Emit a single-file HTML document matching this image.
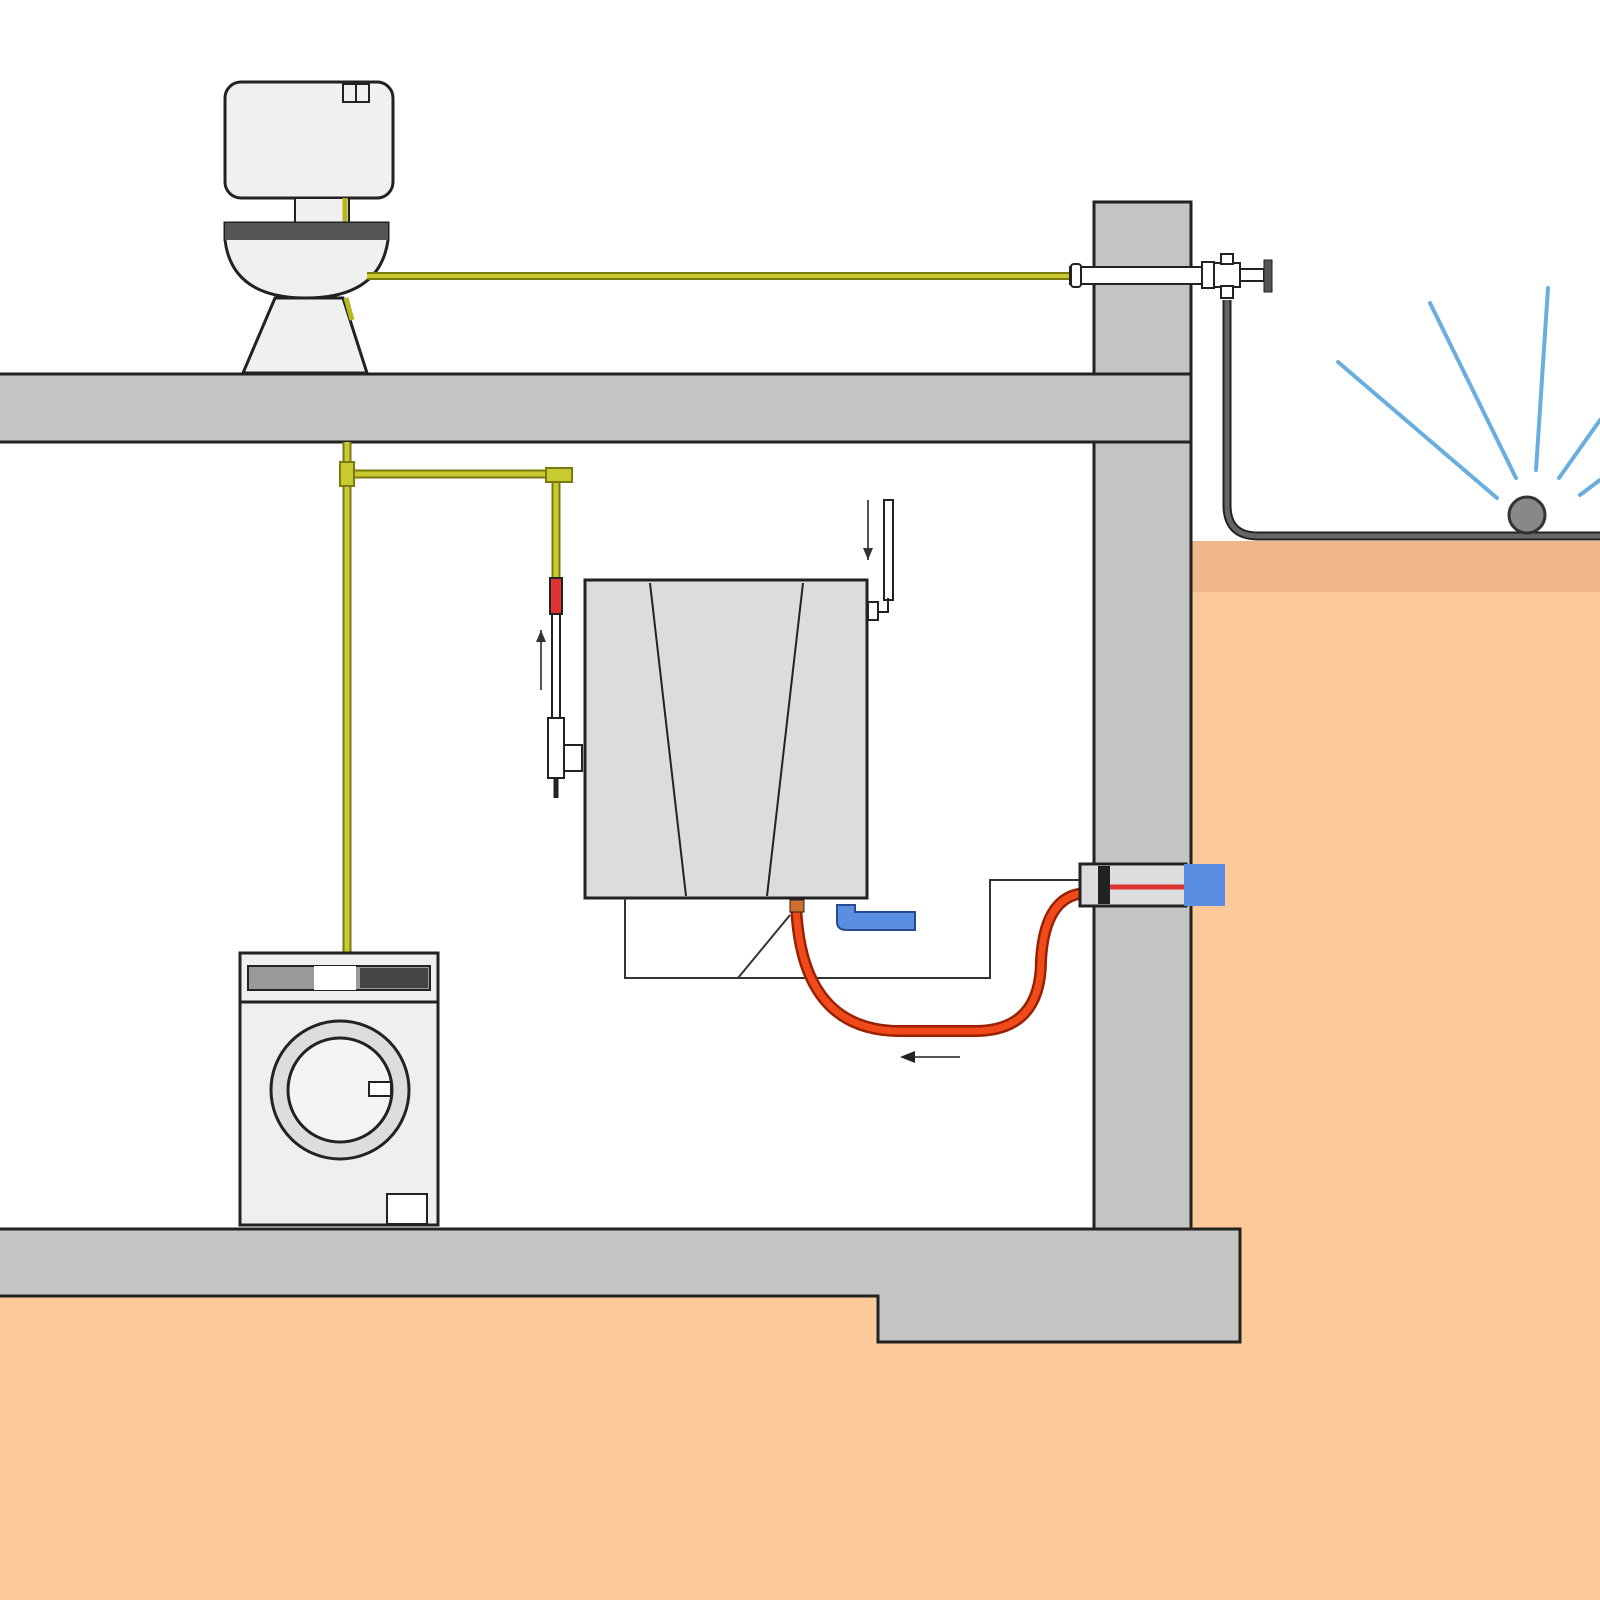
<!DOCTYPE html>
<html><head><style>html,body{margin:0;padding:0;background:#fff}svg{display:block}</style></head>
<body>
<svg width="1600" height="1600" viewBox="0 0 1600 1600" xmlns="http://www.w3.org/2000/svg">
<rect width="1600" height="1600" fill="#fff"/>
<rect x="1191" y="541" width="409" height="1059" fill="#fdc998"/>
<rect x="1191" y="541" width="409" height="51" fill="#efb787"/>
<rect x="0" y="1294" width="1600" height="306" fill="#fdc998"/>
<rect x="1094" y="202" width="97" height="1030" fill="#c4c4c4" stroke="#222" stroke-width="3"/>
<rect x="-5" y="374" width="1196" height="68" fill="#c4c4c4" stroke="#222" stroke-width="3"/>
<path d="M-5 1229 L1240 1229 L1240 1342 L878 1342 L878 1296 L-5 1296 Z" fill="#c4c4c4" stroke="#222" stroke-width="3"/>
<rect x="225" y="82" width="168" height="116" rx="16" fill="#f0f0f0" stroke="#222" stroke-width="3"/>
<rect x="343" y="84" width="26" height="18" fill="#f0f0f0" stroke="#222" stroke-width="2"/>
<line x1="356" y1="84" x2="356" y2="102" stroke="#222" stroke-width="2"/>
<rect x="295" y="198" width="54" height="25" fill="#f0f0f0" stroke="#222" stroke-width="2"/>
<line x1="345" y1="198" x2="345" y2="240" stroke="#b7b820" stroke-width="5"/>
<path d="M275 298 L343 298 L367 373 L243 373 Z" fill="#f0f0f0" stroke="#222" stroke-width="3"/>
<path d="M225 223 L388 223 L388 240 Q380 298 306 298 Q232 298 225 240 Z" fill="#f0f0f0" stroke="#222" stroke-width="3"/>
<rect x="225" y="223" width="163" height="17" fill="#555"/>
<line x1="346" y1="298" x2="352" y2="320" stroke="#b7b820" stroke-width="5"/>
<line x1="367" y1="276" x2="1073" y2="276" stroke="#7a7a10" stroke-width="8"/>
<line x1="367" y1="276" x2="1073" y2="276" stroke="#c9c930" stroke-width="4"/>
<rect x="1070" y="267" width="134" height="17" fill="#fff" stroke="#222" stroke-width="2"/>
<rect x="1071" y="264" width="10" height="23" rx="3" fill="#fff" stroke="#222" stroke-width="2"/>
<rect x="1202" y="262" width="12" height="26" fill="#fff" stroke="#222" stroke-width="2"/>
<rect x="1214" y="263" width="26" height="24" fill="#fff" stroke="#222" stroke-width="2"/>
<rect x="1221" y="254" width="12" height="10" fill="#fff" stroke="#222" stroke-width="2"/>
<rect x="1240" y="269" width="24" height="12" fill="#fff" stroke="#222" stroke-width="2"/>
<rect x="1264" y="260" width="8" height="32" fill="#555" stroke="#222" stroke-width="1"/>
<rect x="1221" y="286" width="12" height="12" fill="#fff" stroke="#222" stroke-width="2"/>
<path d="M1227 300 L1227 505 Q1227 536 1258 536 L1600 536" fill="none" stroke="#222" stroke-width="9"/>
<path d="M1227 300 L1227 505 Q1227 536 1258 536 L1600 536" fill="none" stroke="#666" stroke-width="5"/>
<circle cx="1527" cy="515" r="18" fill="#888" stroke="#333" stroke-width="3"/>
<g stroke="#6aaee0" stroke-width="4" stroke-linecap="round">
<line x1="1338" y1="362" x2="1497" y2="498"/>
<line x1="1430" y1="303" x2="1516" y2="478"/>
<line x1="1548" y1="288" x2="1536" y2="470"/>
<line x1="1600" y1="420" x2="1559" y2="478"/>
<line x1="1600" y1="480" x2="1580" y2="495"/>
</g>
<line x1="347" y1="442" x2="347" y2="956" stroke="#7a7a10" stroke-width="9"/>
<line x1="347" y1="442" x2="347" y2="956" stroke="#c9c930" stroke-width="5"/>
<path d="M347 474 L556 474 L556 582" fill="none" stroke="#7a7a10" stroke-width="9"/>
<path d="M347 474 L556 474 L556 582" fill="none" stroke="#c9c930" stroke-width="5"/>
<rect x="340" y="462" width="14" height="24" fill="#c9c930" stroke="#7a7a10" stroke-width="2"/>
<rect x="546" y="468" width="26" height="14" fill="#c9c930" stroke="#7a7a10" stroke-width="2"/>
<rect x="550" y="578" width="12" height="36" fill="#d33" stroke="#222" stroke-width="2"/>
<rect x="552" y="614" width="8" height="104" fill="#fff" stroke="#222" stroke-width="2"/>
<rect x="548" y="718" width="16" height="60" fill="#fff" stroke="#222" stroke-width="2"/>
<rect x="564" y="745" width="18" height="26" fill="#fff" stroke="#222" stroke-width="2"/>
<line x1="556" y1="778" x2="556" y2="798" stroke="#222" stroke-width="5"/>
<line x1="541" y1="690" x2="541" y2="630" stroke="#555" stroke-width="2"/>
<path d="M536 642 L541 630 L546 642 Z" fill="#333"/>
<rect x="585" y="580" width="282" height="318" fill="#dcdcdc" stroke="#222" stroke-width="3"/>
<line x1="650" y1="583" x2="686" y2="896" stroke="#222" stroke-width="2"/>
<line x1="803" y1="583" x2="767" y2="896" stroke="#222" stroke-width="2"/>
<line x1="868" y1="500" x2="868" y2="560" stroke="#555" stroke-width="2"/>
<path d="M863 548 L868 560 L873 548 Z" fill="#333"/>
<rect x="884" y="500" width="9" height="100" fill="#fff" stroke="#222" stroke-width="2"/>
<path d="M888 598 L888 612 L868 612" fill="none" stroke="#222" stroke-width="2"/>
<rect x="868" y="602" width="10" height="18" fill="#fff" stroke="#222" stroke-width="2"/>
<path d="M625 898 L625 978 L990 978 L990 880 L1082 880" fill="none" stroke="#333" stroke-width="2"/>
<line x1="738" y1="978" x2="790" y2="915" stroke="#333" stroke-width="2"/>
<path d="M837 905 L837 922 Q837 930 847 930 L915 930 L915 912 L855 912 L855 905 Z" fill="#5a8ee0" stroke="#2a4a90" stroke-width="2"/>
<path d="M796 903 Q800 1031 900 1031 L975 1031 Q1041 1031 1041 960 Q1045 893 1088 893" fill="none" stroke="#992000" stroke-width="12"/>
<path d="M796 903 Q800 1031 900 1031 L975 1031 Q1041 1031 1041 960 Q1045 893 1088 893" fill="none" stroke="#f04a1a" stroke-width="7"/>
<rect x="790" y="900" width="14" height="12" fill="#d07030" stroke="#222" stroke-width="1"/>
<line x1="960" y1="1057" x2="905" y2="1057" stroke="#555" stroke-width="2"/>
<path d="M915 1051 L900 1057 L915 1063 Z" fill="#222"/>
<rect x="1080" y="864" width="106" height="42" fill="#ddd" stroke="#222" stroke-width="3"/>
<rect x="1098" y="866" width="12" height="38" fill="#222"/>
<line x1="1110" y1="887" x2="1184" y2="887" stroke="#d33" stroke-width="5"/>
<rect x="1184" y="864" width="41" height="42" fill="#5a8ee0"/>
<rect x="240" y="953" width="198" height="272" fill="#efefef" stroke="#222" stroke-width="3"/>
<line x1="240" y1="1002" x2="438" y2="1002" stroke="#222" stroke-width="3"/>
<rect x="248" y="966" width="182" height="24" fill="#999" stroke="#222" stroke-width="2"/>
<rect x="314" y="966" width="42" height="24" fill="#fff"/>
<rect x="360" y="968" width="68" height="20" fill="#444"/>
<circle cx="340" cy="1090" r="69" fill="#ddd" stroke="#222" stroke-width="3"/>
<circle cx="340" cy="1090" r="52" fill="#f4f4f4" stroke="#222" stroke-width="3"/>
<rect x="369" y="1082" width="22" height="14" fill="#fff" stroke="#222" stroke-width="2"/>
<rect x="387" y="1194" width="40" height="30" fill="#fff" stroke="#222" stroke-width="2"/>
</svg>
</body></html>
